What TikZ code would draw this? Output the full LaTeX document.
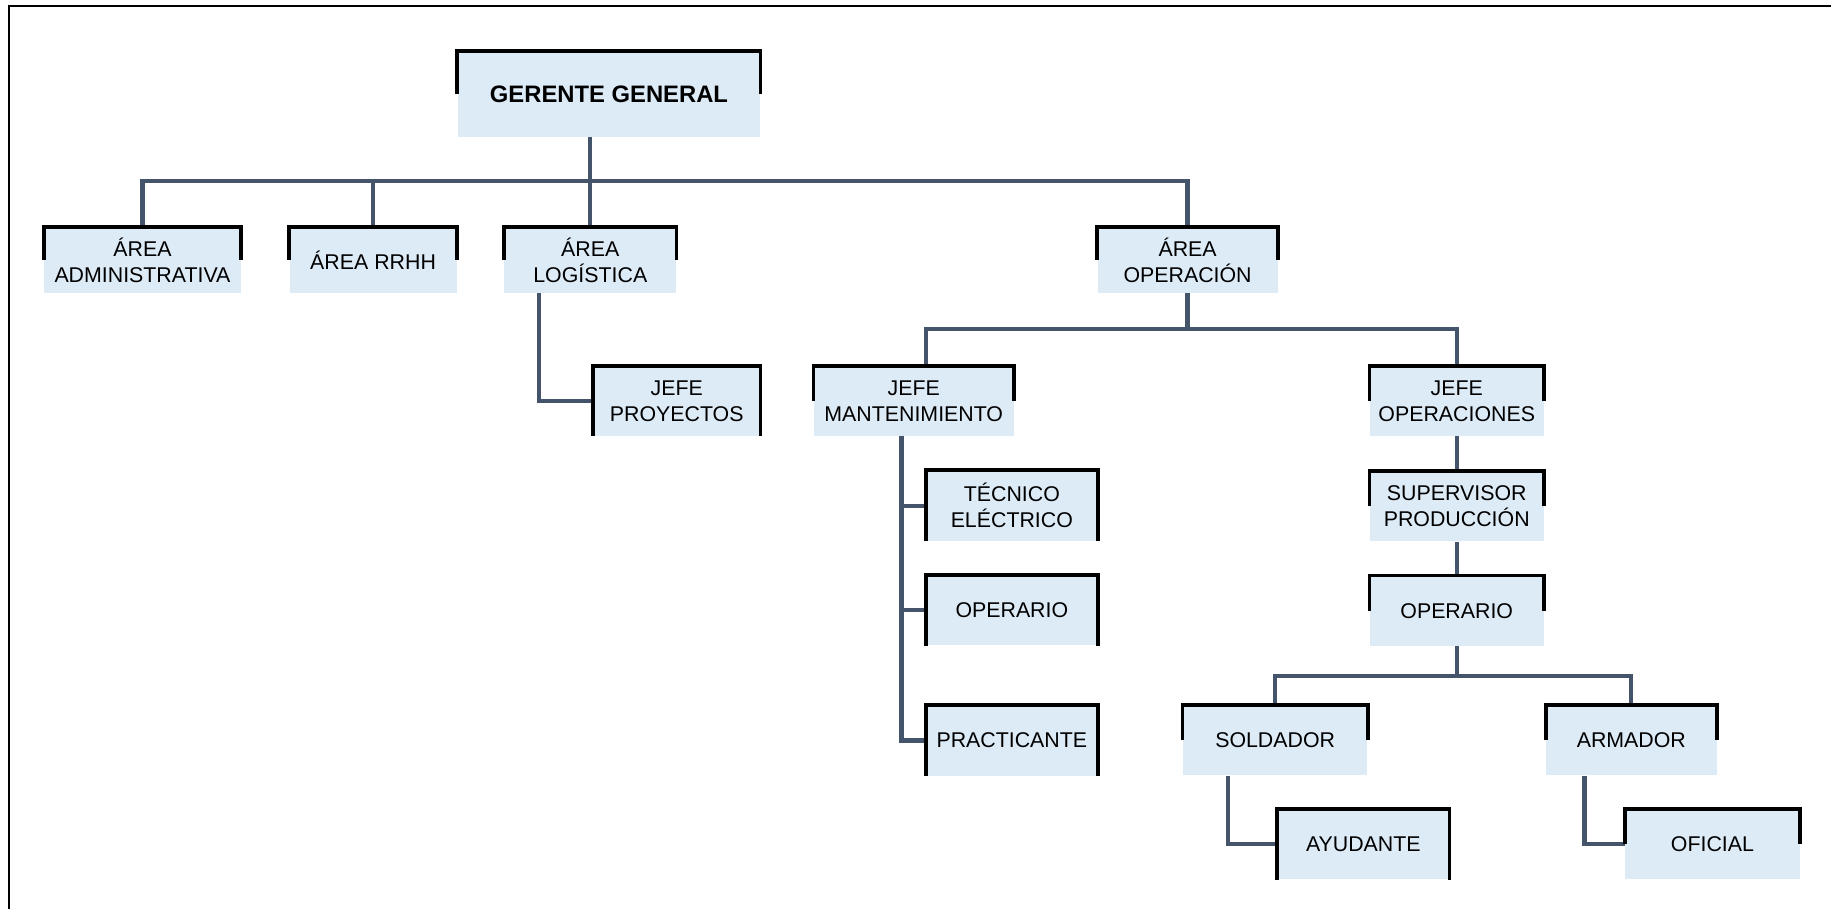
\documentclass[tikz,border=0pt]{standalone}
\usepackage{fontspec}
\setmainfont{Liberation Sans}
\usetikzlibrary{positioning}
\definecolor{boxblue}{RGB}{221,235,247}
\definecolor{linegray}{RGB}{68,84,106}
\tikzset{
    box/.style={fill=boxblue, align=center, inner sep=0pt, minimum height=1.5cm, font=\fontsize{13}{15.6}\selectfont}, % filled box, border drawn later
    edge/.style={draw=linegray, line width=2.6pt}, % connectors between boxes
    rim/.style={draw=black, line width=2.3pt}, % black box edges
    frameline/.style={draw=black, line width=1.3pt}, % page frame
}

\begin{document}
\begin{tikzpicture}[x=0.025cm, y=-0.025cm]
\useasboundingbox (0,0) rectangle (1568,778);
\draw[frameline] (8,778) |- (1568,5);

% boxes
\node[box, minimum width=6.475cm, minimum height=1.825cm, font=\fontsize{14.5}{17}\selectfont\bfseries] (gg) at (521.5,80.5) {GERENTE GENERAL};
\node[box, minimum width=4.2cm, minimum height=1.4cm] (adm) at (122,223) {ÁREA\\ADMINISTRATIVA};
\node[box, minimum width=3.575cm, minimum height=1.4cm] (rrhh) at (319.5,223) {ÁREA RRHH};
\node[box, minimum width=3.675cm, minimum height=1.4cm] (log) at (505.5,223) {ÁREA\\LOGÍSTICA};
\node[box, minimum width=3.85cm, minimum height=1.4cm] (ope) at (1017,223) {ÁREA\\OPERACIÓN};
\node[box, minimum width=3.575cm, minimum height=1.475cm] (jpro) at (579.5,343.5) {JEFE\\PROYECTOS};
\node[box, minimum width=4.275cm, minimum height=1.475cm] (jman) at (782.5,343.5) {JEFE\\MANTENIMIENTO};
\node[box, minimum width=3.725cm, minimum height=1.475cm] (jope) at (1247.5,343.5) {JEFE\\OPERACIONES};
\node[box, minimum width=3.675cm] (tec) at (866.5,433) {TÉCNICO\\ELÉCTRICO};
\node[box, minimum width=3.675cm, below=0.725cm of tec] (opm) {OPERARIO};
\node[box, minimum width=3.675cm, below=1.275cm of opm] (pra) {PRACTICANTE};
\node[box, minimum width=3.725cm, below=0.75cm of jope] (sup) {SUPERVISOR\\PRODUCCIÓN};
\node[box, minimum width=3.725cm, below=0.725cm of sup] (opr) {OPERARIO};
\node[box, minimum width=3.95cm] (sold) at (1092,634) {SOLDADOR};
\node[box, minimum width=3.65cm] (arm) at (1397,634) {ARMADOR};
\node[box, minimum width=3.675cm] (ayu) at (1167.5,723) {AYUDANTE};
\node[box, minimum width=3.725cm] (ofi) at (1466.5,723) {OFICIAL};

% connectors
\draw[edge] (gg.south -| log.north) -- (log.north);
\draw[edge] (adm.north) -- ++(0,-40) -| (ope.north);
\draw[edge] (rrhh.north) -- ++(0,-40);
\draw[edge] ([xshift=0.75cm]log.south west) |- (jpro.west);
\draw[edge] (ope.south) -- ++(0,31);
\draw[edge] ([xshift=0.26cm]jman.north) -- ++(0,-32) -| (jope.north);
\draw[edge] ([xshift=-0.26cm]jman.south) |- (tec.west);
\draw[edge] ([xshift=-0.26cm]jman.south) |- (opm.west);
\draw[edge] ([xshift=-0.26cm]jman.south) |- (pra.west);
\draw[edge] (jope) -- (sup);
\draw[edge] (sup) -- (opr);
\draw[edge] (opr.south) -- ++(0,26);
\draw[edge] (sold.north) -- ++(0,-25) -| (arm.north);
\draw[edge] ([xshift=0.98cm]sold.south west) |- (ayu.west);
\draw[edge] ([xshift=0.83cm]arm.south west) |- (ofi.west);

% box edges
\foreach \n in {gg, adm, rrhh, log, ope, jman, jope, sup, opr, sold, arm, ofi}
    \draw[rim] (\n.west) |- (\n.north east) -- (\n.east);
\foreach \n in {jpro, tec, opm, pra, ayu}
    \draw[rim] (\n.south west) |- (\n.north east) -- (\n.south east);
\end{tikzpicture}
\end{document}
